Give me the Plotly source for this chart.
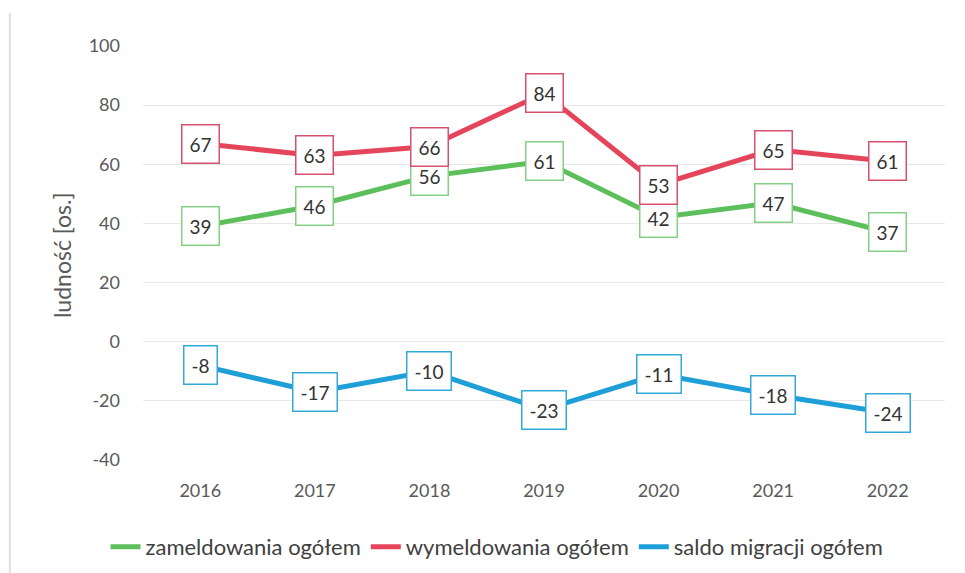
import plotly.graph_objects as go

years = [2016, 2017, 2018, 2019, 2020, 2021, 2022]
zameldowania = [39, 46, 56, 61, 42, 47, 37]
wymeldowania = [67, 63, 66, 84, 53, 65, 61]
saldo = [-8, -17, -10, -23, -11, -18, -24]
y_ticks = [-40, -20, 0, 20, 40, 60, 80, 100]
y_title = "ludność [os.]"

series = [
    ("zameldowania ogółem", zameldowania, "#5cbf5c", "#86d086"),
    ("wymeldowania ogółem", wymeldowania, "#e5455a", "#d9506e"),
    ("saldo migracji ogółem", saldo, "#1e9fd8", "#33a9d8"),
]

FONT = "Lato, Open Sans, sans-serif"
fig = go.Figure()
annotations = []
for name, vals, lc, bc in series:
    fig.add_trace(go.Scatter(
        x=years, y=vals, mode="lines", name=name,
        line=dict(color=lc, width=5),
    ))
    for x, v in zip(years, vals):
        annotations.append(dict(
            x=x, y=v, xref="x", yref="y", text=str(v), showarrow=False,
            font=dict(family=FONT, size=19, color="#333333"),
            bgcolor="white", bordercolor=bc, borderwidth=1.5, borderpad=7,
        ))

annotations.append(dict(
    text=y_title, xref="paper", yref="paper", x=-0.101, y=0.495,
    xanchor="center", yanchor="middle", textangle=-90, showarrow=False,
    font=dict(family=FONT, size=23, color="#595959"),
))

fig.update_layout(
    width=957, height=565,
    margin=dict(l=135, r=20, t=38, b=113, autoexpand=False),
    paper_bgcolor="white", plot_bgcolor="white",
    font=dict(family=FONT, size=17, color="#595959"),
    annotations=annotations,
    showlegend=True,
    legend=dict(orientation="h", xref="container", x=0.511, xanchor="center",
                y=-0.21, yanchor="middle",
                font=dict(family=FONT, size=22, color="#404040"),
                itemwidth=30),
    xaxis=dict(range=[2015.5, 2022.5], tickvals=years, ticktext=[str(y) for y in years],
               showgrid=False, zeroline=False, showline=False,
               ticks="", ticklabelstandoff=18,
               tickfont=dict(family=FONT, size=18, color="#595959")),
    yaxis=dict(range=[-40, 100], tickvals=y_ticks, ticktext=[str(t) for t in y_ticks],
               showgrid=True, gridcolor="#e8e8e8",
               gridwidth=1, zeroline=True, zerolinecolor="#e8e8e8", zerolinewidth=1,
               showline=False, ticks="", ticklabelstandoff=22,
               tickfont=dict(family=FONT, size=18, color="#595959")),
    shapes=[dict(type="line", xref="paper", yref="paper", x0=-0.166, x1=-0.166,
                 y0=-0.273, y1=1.08, line=dict(color="#e0e0e0", width=2))],
)

fig.write_html("out.html")
